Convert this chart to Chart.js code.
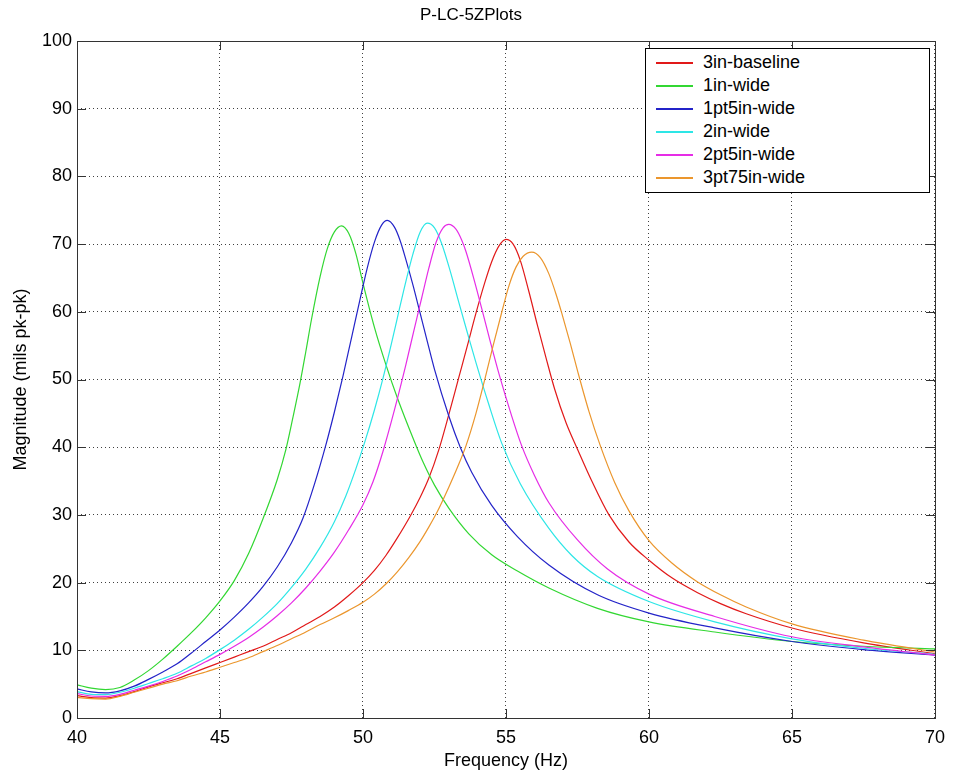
<!DOCTYPE html>
<html>
<head>
<meta charset="utf-8">
<title>P-LC-5ZPlots</title>
<script src="https://cdn.jsdelivr.net/npm/chart.js@4.4.1/dist/chart.umd.min.js"></script>
<style>
  body { margin: 0; background: #fff; }
  #wrap { position: relative; width: 954px; height: 775px; }
  #legend {
    position: absolute; left: 645px; top: 48px; width: 285px; height: 145px;
    box-sizing: border-box; border: 1px solid #000; background: #fff;
    padding-top: 2px; font: 18px 'Liberation Sans', Arial, sans-serif; color: #000;
  }
  .row { position: relative; height: 23px; line-height: 23px; white-space: nowrap; }
  .swatch { position: absolute; left: 10px; top: 11px; width: 37px; height: 2px; }
  .lbl { position: absolute; left: 57px; top: 0; }
</style>
</head>
<body>
<div id="wrap">
  <canvas id="plot" width="954" height="775"></canvas>
  <div id="legend"></div>
</div>
<script>
// frequency (Hz) / magnitude (mils pk-pk), one pair per run
const freqBaseline = [40,40.5,41,41.5,42,42.5,43,43.5,44,44.5,45,45.5,46,46.5,47,47.5,48,48.5,49,49.5,50,50.4,50.8,51.2,51.65,52.0,52.3,52.65,53.0,53.35,53.65,53.95,54.25,54.5,54.75,55.0,55.25,55.5,55.8,56.1,56.4,56.7,57.1,57.5,58,58.6,59.3,60,60.8,61.7,62.5,63.4,65,67.5,70];
const magBaseline  = [3.3,3.0,2.95,3.3,3.9,4.6,5.2,5.8,6.6,7.4,8.2,9.0,9.8,10.6,11.6,12.6,13.8,15.0,16.4,18.1,20.0,21.8,24.0,26.6,29.8,32.6,35.4,39.6,44.8,50.3,55.0,59.8,64.2,67.4,69.7,70.7,70.0,67.6,63.0,58.0,53.2,48.6,43.6,39.7,35.0,30.0,26.0,23.3,20.7,18.5,16.9,15.4,13.3,11.1,9.5];

const freq1in = [40,40.5,41,41.5,42,42.5,43,43.5,44,44.5,45,45.5,46,46.5,47,47.3,47.55,47.8,48.0,48.2,48.5,48.75,49.0,49.25,49.5,49.75,50.0,50.4,50.8,51.2,51.8,52.1,52.5,53,53.7,54.5,55.4,56.5,58.2,60,62.3,65,67.5,70];
const mag1in  = [4.9,4.4,4.2,4.5,5.6,7.0,8.7,10.6,12.6,14.8,17.3,20.3,24.3,29.4,35.2,39.6,44.4,49.5,54.1,58.9,65.2,69.3,71.8,72.7,71.6,68.6,64.2,57.7,52.2,47.3,40.8,37.8,34.4,31.0,27.2,24.1,21.7,19.2,16.2,14.2,12.7,11.3,10.6,10.2];

const freq1pt5 = [40,40.5,41,41.5,42,42.5,43,43.5,44,44.5,45,45.5,46,46.5,47,47.5,47.9,48.3,48.7,49.0,49.3,49.6,49.9,50.15,50.4,50.65,50.85,51.1,51.3,51.5,51.75,51.95,52.25,52.5,53,53.4,53.8,54.5,55.4,56.5,58.2,60,62.3,65,67.5,70];
const mag1pt5  = [4.3,3.85,3.7,4.0,4.7,5.7,6.8,8.0,9.6,11.3,13.0,14.9,17.0,19.4,22.3,25.9,29.5,34.5,40.3,45.2,50.5,56.2,61.9,66.5,70.3,72.8,73.5,72.5,70.5,67.7,63.9,60.6,55.6,51.5,44.6,40.0,36.3,31.4,26.8,22.6,18.2,15.5,13.3,11.3,10.1,9.3];

const freq2in = [40,40.5,41,41.5,42,42.5,43,43.5,44,44.5,45,45.5,46,46.5,47,47.5,48,48.5,49.0,49.4,49.75,50.05,50.4,50.7,51.0,51.25,51.5,51.75,52.0,52.25,52.5,52.75,53.05,53.35,53.65,53.95,54.4,54.85,55.5,56.5,57.3,58.2,60,62.3,65,67.5,70];
const mag2in  = [3.9,3.5,3.45,3.8,4.4,5.1,5.8,6.6,7.7,8.8,10.1,11.5,13.1,14.9,16.9,19.3,22.0,25.2,29.0,32.8,36.8,40.6,45.5,50.2,55.4,60.0,64.5,68.6,71.8,73.1,72.4,70.1,66.0,61.4,56.9,52.5,46.3,40.6,34.6,28.0,24.0,20.9,17.2,14.2,11.7,10.3,9.4];

const freq2pt5 = [40,40.5,41,41.5,42,42.5,43,43.5,44,44.5,45,45.5,46,46.5,47,47.5,48,48.5,49.0,49.5,50,50.35,50.7,51.1,51.5,51.8,52.05,52.3,52.55,52.8,53.0,53.25,53.45,53.6,53.9,54.15,54.45,54.75,55.2,55.55,56,56.5,57.5,58.55,60,62.3,65,67.5,70];
const mag2pt5  = [3.6,3.25,3.2,3.5,4.1,4.7,5.4,6.2,7.2,8.3,9.4,10.6,11.9,13.4,15.1,17.0,19.2,21.7,24.5,27.8,31.5,34.9,39.4,45.5,52.2,57.6,62.0,66.4,70.2,72.4,72.9,72.2,70.6,68.9,64.5,60.5,55.6,50.9,44.6,40.2,35.8,31.8,26.3,22.0,18.3,15.0,12.0,10.5,9.3];

const freq3pt75 = [40,40.5,41,41.5,42,42.5,43,43.5,44,44.5,45,45.5,46,46.5,47,47.5,48,48.5,49,49.5,50,50.4,50.8,51.2,51.6,52.0,52.3,52.6,53.0,53.3,53.6,53.95,54.27,54.55,54.85,55.1,55.35,55.6,55.9,56.2,56.5,56.75,56.95,57.25,57.5,57.9,58.3,58.8,59.3,60,60.8,61.7,62.5,63.4,65,67.5,70];
const mag3pt75  = [3.05,2.85,2.8,3.2,3.8,4.4,5.0,5.5,6.2,6.8,7.5,8.2,8.9,9.8,10.7,11.7,12.7,13.8,14.8,15.9,17.1,18.3,19.8,21.6,23.7,26.1,28.2,30.5,34.1,37.0,40.2,45.0,50.2,55.0,59.9,63.8,66.6,68.2,68.8,68.0,65.6,62.6,59.8,55.3,51.3,45.3,40.2,34.8,30.6,26.2,22.9,20.1,18.2,16.4,13.9,11.5,9.75];

const seriesLabels = ['3in-baseline', '1in-wide', '1pt5in-wide', '2in-wide', '2pt5in-wide', '3pt75in-wide'];
const seriesColors = ['rgb(225,25,25)', 'rgb(50,215,50)', 'rgb(35,35,200)', 'rgb(45,230,230)', 'rgb(230,45,230)', 'rgb(235,150,45)'];
const seriesFreqs = [freqBaseline, freq1in, freq1pt5, freq2in, freq2pt5, freq3pt75];
const seriesMags = [magBaseline, mag1in, mag1pt5, mag2in, mag2pt5, mag3pt75];

const xTicks = [40, 45, 50, 55, 60, 65, 70];
const yTicks = [0, 10, 20, 30, 40, 50, 60, 70, 80, 90, 100];

const FONT = "'Liberation Sans', Arial, Helvetica, sans-serif";

function toPoints(freqs, mags) {
  return freqs.map((f, i) => ({ x: f, y: mags[i] }));
}

const datasets = seriesLabels.map((label, i) => ({
  label: label,
  data: toPoints(seriesFreqs[i], seriesMags[i]),
  borderColor: seriesColors[i],
  backgroundColor: seriesColors[i],
  borderWidth: 1.2,
  pointRadius: 0,
  fill: false,
  cubicInterpolationMode: 'monotone',
  order: seriesLabels.length - i
}));

// box round the axes plus the short inward tick marks
const framePlugin = {
  id: 'frame',
  afterDatasetsDraw(chart) {
    const { ctx, chartArea: a, scales: { x, y } } = chart;
    const len = 9;
    ctx.save();
    ctx.setLineDash([]);
    ctx.strokeStyle = '#333';
    ctx.lineWidth = 1;
    ctx.strokeRect(Math.round(a.left) + 0.5, Math.round(a.top) + 0.5,
      Math.round(a.right - a.left), Math.round(a.bottom - a.top));
    ctx.beginPath();
    xTicks.forEach(v => {
      const px = Math.round(x.getPixelForValue(v)) + 0.5;
      ctx.moveTo(px, a.bottom); ctx.lineTo(px, a.bottom - len);
      ctx.moveTo(px, a.top); ctx.lineTo(px, a.top + len);
    });
    yTicks.forEach(v => {
      const py = Math.round(y.getPixelForValue(v)) + 0.5;
      ctx.moveTo(a.left, py); ctx.lineTo(a.left + len, py);
      ctx.moveTo(a.right, py); ctx.lineTo(a.right - len, py);
    });
    ctx.stroke();
    ctx.restore();
  }
};

const ctx = document.getElementById('plot').getContext('2d');
const chart = new Chart(ctx, {
  type: 'line',
  data: { datasets: datasets },
  options: {
    responsive: false,
    animation: false,
    layout: { padding: { left: 4, right: 16, top: 0, bottom: 2 } },
    plugins: {
      legend: { display: false },
      tooltip: { enabled: false },
      title: {
        display: true,
        text: 'P-LC-5ZPlots',
        color: '#000',
        font: { family: FONT, size: 17, weight: 'normal' },
        padding: { top: 5, bottom: 15.6 }
      }
    },
    scales: {
      x: {
        type: 'linear',
        min: 40,
        max: 70,
        afterBuildTicks: s => { s.ticks = xTicks.map(v => ({ value: v })); },
        ticks: { color: '#000', font: { family: FONT, size: 18 }, padding: 9, maxRotation: 0 },
        grid: { color: 'rgba(0,0,0,0.75)', drawTicks: false },
        border: { display: false, dash: [1, 3] },
        title: {
          display: true,
          text: 'Frequency (Hz)',
          color: '#000',
          font: { family: FONT, size: 18 },
          padding: { top: 0, bottom: 1 }
        },
        afterFit: s => { s.height = 55; }
      },
      y: {
        type: 'linear',
        min: 0,
        max: 100,
        afterBuildTicks: s => { s.ticks = yTicks.map(v => ({ value: v })); },
        ticks: { color: '#000', font: { family: FONT, size: 18 }, padding: 5 },
        grid: { color: 'rgba(0,0,0,0.75)', drawTicks: false },
        border: { display: false, dash: [1, 3] },
        title: {
          display: true,
          text: 'Magnitude (mils pk-pk)',
          color: '#000',
          font: { family: FONT, size: 18 },
          padding: { top: 6, bottom: 0 }
        },
        afterFit: s => { s.width = 73; }
      }
    }
  },
  plugins: [framePlugin]
});

// legend box inside the plot, top right, built from the datasets
const legendEl = document.getElementById('legend');
chart.data.datasets.forEach(ds => {
  const row = document.createElement('div');
  row.className = 'row';
  row.innerHTML = `<span class="swatch" style="background:${ds.borderColor}"></span><span class="lbl">${ds.label}</span>`;
  legendEl.appendChild(row);
});
</script>
</body>
</html>
